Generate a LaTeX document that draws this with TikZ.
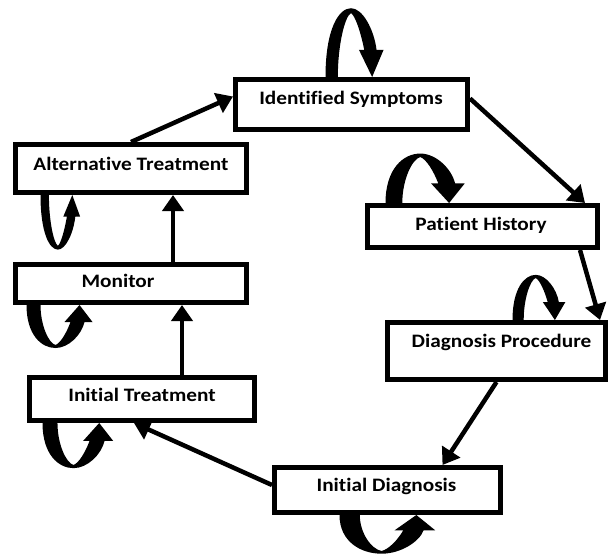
\documentclass[tikz,border=0pt]{standalone}
\usepackage{fontspec}
\setmainfont{Carlito}[Ligatures=NoCommon,FakeStretch=1.12]
\usetikzlibrary{arrows.meta,calc}
\begin{document}
\begin{tikzpicture}[x=1pt,y=-1pt,
  box/.style={draw,line width=5pt,fill=white,inner sep=0pt,rectangle},
  lbl/.style={font=\bfseries\fontsize{19}{21}\selectfont,inner sep=0pt,anchor=base},
  conn/.style={line width=4.5pt,-{Triangle[width=21pt,length=16pt]}},
  loopshape/.pic={\fill[black] (0,-2) -- (0,0) .. controls (0,30) and (15,43) .. (29,43)
     .. controls (42,43) and (55,30) .. (58,17) -- (66,17) -- (53,0) -- (38,17) -- (44,17)
     .. controls (40,28) and (34,38) .. (29,40) .. controls (22,38) and (14,20) .. (14,0) -- (14,-2) -- cycle;}]
\useasboundingbox (0,0) rectangle (608,555);
% boxes
\node[box,minimum width=232pt,minimum height=50pt] (is) at (351.5,104.5) {};
\node[box,minimum width=231pt,minimum height=48pt] (at) at (131,168.5) {};
\node[box,minimum width=231pt,minimum height=38pt] (mo) at (131,283.5) {};
\node[box,minimum width=225pt,minimum height=43pt] (it) at (142,399) {};
\node[box,minimum width=226pt,minimum height=45pt] (id) at (387.5,490) {};
\node[box,minimum width=230pt,minimum height=42pt] (ph) at (482.5,226.5) {};
\node[box,minimum width=218pt,minimum height=57pt] (dp) at (496.5,351) {};
% labels
\node[lbl] (tis) at (351,104) {Identified Symptoms};
\node[lbl] (tat) at (131,170) {Alternative Treatment};
\node[lbl] (tmo) at (118,287) {Monitor};
\node[lbl] (tit) at (142,401) {Initial Treatment};
\node[lbl] (tid) at (386.5,491) {Initial Diagnosis};
\node[lbl] (tph) at (481,230) {Patient History};
\node[lbl] (tdp) at (501.5,347) {Diagnosis Procedure};
% connectors
\draw[conn] (at.north) -- ([yshift=8pt]is.west);
\draw[conn] ([yshift=6pt]is.east) -- ([xshift=-15pt]ph.north east);
\draw[conn] ([xshift=-20pt]ph.south east) -- ([xshift=-8pt]dp.north east);
\draw[conn] (dp.south) -- ([xshift=55pt]id.north);
\draw[conn] ([yshift=5pt]id.west) -- ([xshift=-8pt]it.south);
\draw[conn] ([xshift=40pt]it.north) -- ([xshift=51pt]mo.south);
\draw[conn] ([xshift=42pt]mo.north) -- ([xshift=42pt]at.south);
% self loops
\path ([xshift=92.5pt]is.north west) pic[xscale=0.88,yscale=-1.6] {loopshape};
\path ([xshift=20.5pt]ph.north west) pic[xscale=1.2,yscale=-1.15] {loopshape};
\path ([xshift=127.5pt]dp.north west) pic[xscale=0.8,yscale=-1.05] {loopshape};
\path ([xshift=27.5pt]at.south west) pic[xscale=0.6,yscale=1.27] {loopshape};
\path ([xshift=13.5pt]mo.south west) pic {loopshape};
\path ([xshift=15.5pt]it.south west) pic[xscale=1.07,yscale=1.05] {loopshape};
\path ([xshift=67.5pt]id.south west) pic[xscale=1.45,yscale=0.9] {loopshape};
\end{tikzpicture}
\end{document}
